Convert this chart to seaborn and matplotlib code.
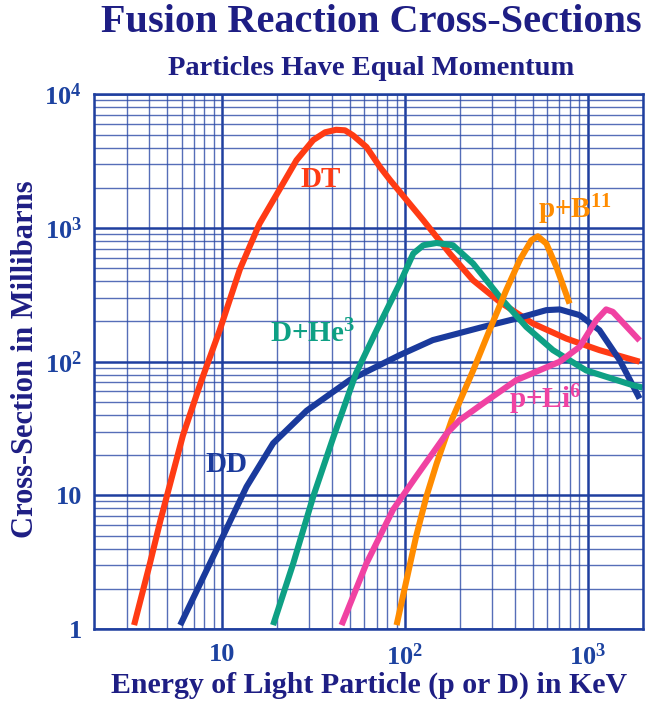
import matplotlib
matplotlib.use("Agg")
import matplotlib.pyplot as plt
import matplotlib.ticker as mticker
import seaborn as sns
import pandas as pd

# ---- data ----
reactions = ["DT", "DD", "D+He3", "p+B11", "p+Li6"]

dt_energy = [3.3, 4.03, 4.6, 6.1, 7.7, 9.7, 12.5, 16, 21, 25.5, 31.5, 36.6, 42, 47, 52, 61.6, 73, 83,
             126, 176, 236, 330, 501, 762, 1158, 1920]
dt_sigma = [1.07, 3.1, 6.5, 28, 72, 172, 490, 1075, 2030, 3210, 4550, 5200, 5430, 5380, 4930, 4035, 2860, 2280,
            1143, 644, 406, 280, 193, 149, 122, 100]

dd_energy = [5.9, 9.3, 13.6, 19, 29, 50, 93.6, 142, 267, 406, 593, 702, 902, 1158, 1492, 1920]
dd_sigma = [1.07, 3.9, 11.6, 24.5, 43, 73, 112, 145, 182, 210, 243, 246, 223, 172, 103, 53]

dhe3_energy = [19, 24.5, 31.5, 40.5, 54, 70, 93.6, 111, 126, 149, 183, 236, 330, 461, 645, 980, 1762, 2000]
dhe3_sigma = [1.07, 3.1, 9.8, 27, 82, 172, 384, 644, 743, 773, 743, 542, 305, 182, 122, 86, 66.7, 64]

pb11_energy = [90, 115, 131, 149, 180, 236, 290, 358, 424, 491, 533, 593, 673, 795]
pb11_sigma = [1.07, 4.9, 9.8, 17.3, 36.5, 86, 172, 343, 574, 809, 867, 765, 512, 272]

pli6_energy = [45, 61.6, 86, 115, 169, 199, 267, 406, 702, 902, 1111, 1260, 1370, 1920]
pli6_sigma = [1.07, 3.1, 7.8, 13.8, 29, 36.5, 48.7, 72.7, 100, 129, 204, 246, 236, 144]

x_tick_values = [10, 100, 1000]
x_tick_labels = ["10", r"10$^{2}$", r"10$^{3}$"]
y_tick_values = [1, 10, 100, 1000, 10000]
y_tick_labels = ["1", "10", r"10$^{2}$", r"10$^{3}$", r"10$^{4}$"]

colors = {"DT": "#ff3b14", "DD": "#1a3a9c", "D+He3": "#0ea084",
          "p+B11": "#ff8c00", "p+Li6": "#f042a2"}

frames = []
for name, e, s in [("DT", dt_energy, dt_sigma), ("DD", dd_energy, dd_sigma),
                   ("D+He3", dhe3_energy, dhe3_sigma), ("p+B11", pb11_energy, pb11_sigma),
                   ("p+Li6", pli6_energy, pli6_sigma)]:
    frames.append(pd.DataFrame({"reaction": name, "energy": e, "sigma": s}))
df = pd.concat(frames, ignore_index=True)

# ---- style ----
sns.set_style("white")
plt.rcParams["font.family"] = ["Liberation Serif", "DejaVu Serif"]
plt.rcParams["font.weight"] = "bold"
plt.rcParams["mathtext.fontset"] = "custom"
plt.rcParams["mathtext.rm"] = "Liberation Serif:bold"
plt.rcParams["mathtext.it"] = "Liberation Serif:bold"
plt.rcParams["mathtext.bf"] = "Liberation Serif:bold"

navy = "#1e1e84"
tickblue = "#1c42a0"
gridblue = "#1f3f9f"

fig = plt.figure(figsize=(6.6, 7.04), dpi=100)
ax = fig.add_axes([0.1429, 0.1065, 0.974 - 0.1429, 0.866 - 0.1065])

ax.set_xscale("log")
ax.set_yscale("log")
ax.set_xlim(2, 2000)
ax.set_ylim(1, 10000)

# grid
ax.xaxis.set_minor_locator(mticker.LogLocator(base=10, subs=range(2, 10), numticks=20))
ax.yaxis.set_minor_locator(mticker.LogLocator(base=10, subs=range(2, 10), numticks=20))
ax.grid(which="major", color=gridblue, lw=1.8, zorder=0)
ax.grid(which="minor", color="#2c4aa6", lw=1.0, alpha=0.8, zorder=0)
ax.set_axisbelow(True)

sns.lineplot(data=df, x="energy", y="sigma", hue="reaction", palette=colors,
             hue_order=reactions, sort=False, estimator=None, lw=4.4,
             legend=False, ax=ax)
for ln in ax.get_lines():
    ln.set_solid_capstyle("butt")
    ln.set_solid_joinstyle("round")

for sp in ax.spines.values():
    sp.set_color(gridblue)
    sp.set_linewidth(1.8)

ax.set_xticks(x_tick_values)
ax.set_xticklabels(x_tick_labels)
ax.set_yticks(y_tick_values)
ax.set_yticklabels(y_tick_labels)
ax.tick_params(which="both", length=0, labelsize=19, colors=tickblue, pad=9)
ax.tick_params(axis="x", pad=10)
for lab in ax.get_xticklabels() + ax.get_yticklabels():
    lab.set_fontweight("bold")
ax.set_xlabel("")
ax.set_ylabel("")

# curve labels
lab_kw = dict(transform=ax.transAxes, ha="center", va="center", fontsize=21, fontweight="bold")
ax.text(0.412, 0.840, "DT", color=colors["DT"], **lab_kw)
ax.text(0.398, 0.552, r"D+He$^{3}$", color=colors["D+He3"], **lab_kw)
ax.text(0.240, 0.307, "DD", color=colors["DD"], **lab_kw)
ax.text(0.876, 0.784, r"p+B$^{11}$", color=colors["p+B11"], **lab_kw)
ax.text(0.821, 0.428, r"p+Li$^{6}$", color=colors["p+Li6"], **lab_kw)

# titles and axis labels
fig.text(0.562, 0.968, "Fusion Reaction Cross-Sections", ha="center", va="center",
         fontsize=29, fontweight="bold", color=navy)
fig.text(0.562, 0.903, "Particles Have Equal Momentum", ha="center", va="center",
         fontsize=20.5, fontweight="bold", color=navy)
fig.text(0.559, 0.026, "Energy of Light Particle (p or D) in KeV", ha="center", va="center",
         fontsize=21.5, fontweight="bold", color=navy)
fig.text(0.038, 0.49, "Cross-Section in Millibarns", ha="center", va="center",
         rotation=90, fontsize=22, fontweight="bold", color=navy)

fig.savefig("out.png", dpi=100)
